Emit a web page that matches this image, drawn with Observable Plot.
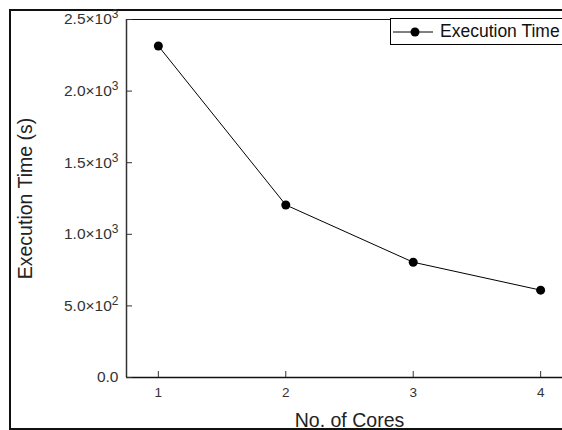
<!DOCTYPE html>
<html>
<head>
<meta charset="utf-8">
<script src="https://cdn.jsdelivr.net/npm/d3@7"></script>
<script src="https://cdn.jsdelivr.net/npm/@observablehq/plot@0.6"></script>
<style>
  html, body { margin: 0; padding: 0; background: #fff; overflow: hidden; }
  #wrap { position: relative; width: 562px; height: 430px; overflow: hidden; font-family: "Liberation Sans", Arial, sans-serif; }
  #outer { position: absolute; left: 9px; top: 9px; width: 600px; height: 417px; border: 2px solid #111; }
  #chart { position: absolute; left: 0; top: 0; }
  #chart svg { max-width: none !important; }
  #legend { position: absolute; left: 390px; top: 18px; width: 200px; height: 25px; border: 1px solid #000; background: #fff;
            font-size: 17.5px; color: #111; display: flex; align-items: center; white-space: nowrap; }
  #legend svg { margin-left: 2px; margin-right: 3px; }
</style>
</head>
<body>
<div id="wrap">
  <div id="outer"></div>
  <div id="chart"></div>
  <div id="legend"></div>
</div>
<script>
const cores = [1, 2, 3, 4];
const execTime = [2315, 1205, 805, 610];
const yTicks = [0, 500, 1000, 1500, 2000, 2500];
const yTickLabels = ["0.0", "5.0×10²", "1.0×10³", "1.5×10³", "2.0×10³", "2.5×10³"];
const xTicks = [1, 2, 3, 4];
const seriesName = "Execution Time";
const xTitle = "No. of Cores";
const yTitle = "Execution Time (s)";

const data = cores.map((c, i) => ({cores: c, time: execTime[i]}));

const plot = Plot.plot({
  width: 580,
  height: 430,
  marginLeft: 126,
  marginTop: 19,
  marginBottom: 53,
  marginRight: 8,
  style: {fontFamily: "Liberation Sans, Arial, sans-serif", fontSize: "14px", color: "#333", background: "transparent", maxWidth: "none"},
  x: {domain: [0.75, 4.25]},
  y: {domain: [0, 2500]},
  marks: [
    Plot.frame({stroke: "#111", strokeWidth: 1}),
    Plot.ruleX([0.75], {stroke: "#333", strokeWidth: 1.5}),
    Plot.ruleY([0], {stroke: "#111", strokeWidth: 1.5}),
    Plot.axisY({ticks: yTicks, tickFormat: (d) => yTickLabels[yTicks.indexOf(d)], tickSize: -6, tickPadding: 14,
                label: null}),
    Plot.axisY({ticks: [], label: yTitle, labelAnchor: "center", labelOffset: 108, labelArrow: false}),
    Plot.axisX({ticks: xTicks, tickFormat: d => String(d), tickSize: -6, tickPadding: 16,
                label: null}),
    Plot.axisX({ticks: [], label: xTitle, labelAnchor: "center", labelOffset: 49, labelArrow: false}),
    Plot.line(data, {x: "cores", y: "time", stroke: "#000", strokeWidth: 1}),
    Plot.dot(data, {x: "cores", y: "time", r: 4.5, fill: "#000", stroke: "none"})
  ]
});
document.getElementById("chart").appendChild(plot);

const supMap = {"²": "2", "³": "3"};
d3.select(plot).selectAll("text").each(function() {
  const s = this.textContent.trim();
  if (s.includes("Cores") || s.includes("(s)")) {
    this.style.setProperty("font-size", "19.5px", "important");
    this.style.setProperty("fill", "#222");
  } else if (yTickLabels.includes(s)) {
    this.style.setProperty("font-size", "15.5px", "important");
    this.style.setProperty("fill", "#333");
    const last = s.slice(-1);
    if (supMap[last]) {
      const base = s.slice(0, -1);
      const el = this;
      const target = el.querySelector("tspan") || el;
      target.textContent = base;
      const t = document.createElementNS("http://www.w3.org/2000/svg", "tspan");
      t.textContent = supMap[last];
      t.setAttribute("dy", "-6");
      t.style.fontSize = "12px";
      el.appendChild(t);
    }
  } else if (xTicks.map(String).includes(s)) {
    this.style.setProperty("font-size", "13.5px", "important");
    this.style.setProperty("fill", "#333");
  }
});

const legend = document.getElementById("legend");
legend.innerHTML = `<svg width="44" height="12"><line x1="0" y1="6" x2="40" y2="6" stroke="#000" stroke-width="1"/><circle cx="22" cy="6" r="4.5" fill="#000"/></svg><span>${seriesName}</span>`;
</script>
</body>
</html>
